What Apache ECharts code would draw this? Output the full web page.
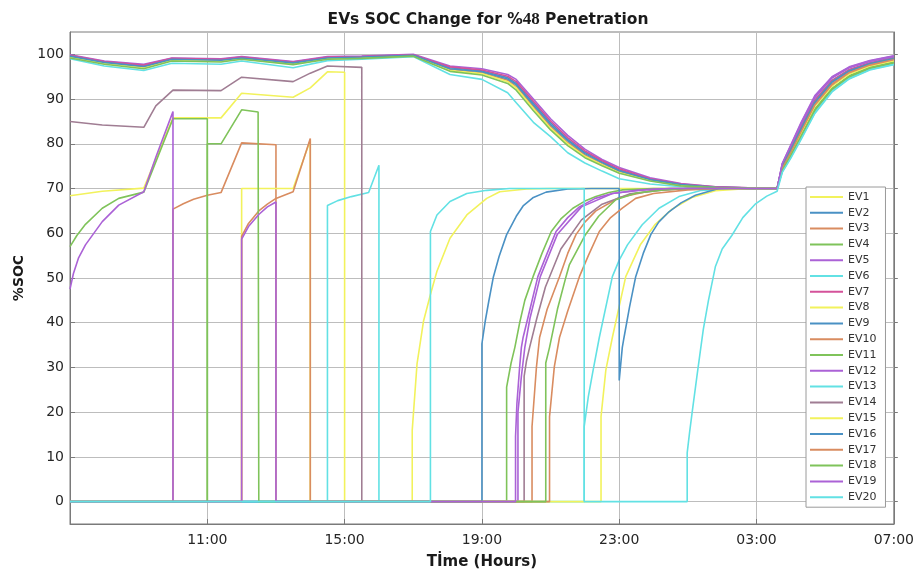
<!DOCTYPE html>
<html><head><meta charset="utf-8">
<script src="https://cdn.jsdelivr.net/npm/echarts@6/dist/echarts.min.js"></script>
<style>html,body{margin:0;padding:0;background:#fff}#c{width:917px;height:575px}</style>
</head><body><div id="c"></div>
<script>
// ---- DATA (time in hours from 07:00 = 7 to 07:00 next day = 31, SOC in %) ----
const evNames = ['EV1','EV2','EV3','EV4','EV5','EV6','EV7','EV8','EV9','EV10','EV11','EV12','EV13','EV14','EV15','EV16','EV17','EV18','EV19','EV20'];
const xTickLabels = ['07:00','11:00','15:00','19:00','23:00','03:00','07:00'];
const yTicks = [0,10,20,30,40,50,60,70,80,90,100];

const ev1 = [[7,68.4],[7.94,69.4],[9.15,70.1],[10.0,85.8],[11.4,85.8],[12.0,91.3],[13.5,90.4],[14.0,92.5],[14.5,96.1],[15.0,96.0],[15.0,0],[16.97,0],[16.97,16],[17.11,30.8],[17.3,40.4],[17.5,46.3],[17.69,51.5],[18.07,58.9],[18.56,64.1],[19.14,67.8],[19.52,69.3],[20.3,69.9],[21.0,70],[27.6,70],[27.75,74.5],[28.0,78.0],[28.3,82.5],[28.7,88.5],[29.2,93.0],[29.7,95.7],[30.3,97.4],[31,98.6]];
const ev2 = [[7,99.7],[8,98.3],[9.15,97.4],[9.97,99.0],[11.4,98.8],[12.0,99.3],[13.5,98.2],[14.5,99.3],[15.5,99.5],[17.0,99.9],[18.07,97.0],[19.0,96.3],[19.75,94.8],[20.0,93.5],[20.5,89.1],[21.0,84.7],[21.5,81.0],[22.0,78.1],[22.5,76.0],[23.0,74.2],[23.9,72.1],[24.8,70.9],[25.8,70.3],[27.0,70.1],[27.6,70],[27.75,75.0],[28.0,78.9],[28.3,83.6],[28.7,89.6],[29.2,94.1],[29.7,96.5],[30.3,98.0],[31,99.2]];
const ev3 = [[7,99.5],[8,98.1],[9.15,97.2],[9.97,98.8],[11.4,98.6],[12.0,99.1],[13.5,98.0],[14.5,99.1],[15.5,99.3],[17.0,99.8],[18.07,96.6],[19.0,95.9],[19.75,94.2],[20.0,92.8],[20.5,88.3],[21.0,83.9],[21.5,80.3],[22.0,77.5],[22.5,75.5],[23.0,73.8],[23.9,71.9],[24.8,70.8],[25.8,70.2],[27.0,70.1],[27.6,70],[27.75,74.6],[28.0,78.2],[28.3,82.8],[28.7,88.8],[29.2,93.3],[29.7,95.9],[30.3,97.6],[31,98.8]];
const ev4 = [[7,57],[7.2,59.5],[7.45,62],[7.94,65.6],[8.42,67.8],[9.15,69.2],[10.0,85.6],[11.0,85.6],[11.0,0],[19.72,0],[19.72,25.6],[19.85,31],[19.96,34.5],[20.1,40],[20.25,45],[20.49,50.3],[20.75,55.5],[21.02,60.4],[21.3,63.2],[21.65,65.6],[22.0,67.2],[22.32,68.2],[22.7,69.1],[23.1,69.7],[24.0,70],[27.6,70],[27.75,74.1],[28.0,77.5],[28.3,81.8],[28.7,87.6],[29.2,92.3],[29.7,95.1],[30.3,97.0],[31,98.2]];
const ev5 = [[7,99.9],[8,98.5],[9.15,97.8],[9.97,99.2],[11.4,99.0],[12.0,99.5],[13.5,98.4],[14.5,99.5],[15.5,99.6],[17.0,100.0],[18.07,97.4],[19.0,96.8],[19.75,95.5],[20.0,94.4],[20.5,90.0],[21.0,85.6],[21.5,81.9],[22.0,78.8],[22.5,76.5],[23.0,74.7],[23.9,72.4],[24.8,71.1],[25.8,70.4],[27.0,70.1],[27.6,70],[27.75,75.5],[28.0,79.6],[28.3,84.6],[28.7,90.6],[29.2,94.9],[29.7,97.1],[30.3,98.5],[31,99.6]];
const ev6 = [[7,99.0],[8,97.4],[9.15,96.4],[9.97,98.0],[11.4,97.8],[12.0,98.5],[13.5,97.0],[14.5,98.6],[15.5,98.9],[17.0,99.5],[18.07,95.5],[19.0,94.4],[19.75,91.4],[20.0,89.2],[20.5,84.8],[21.0,81.6],[21.5,78.0],[22.0,75.7],[22.5,73.9],[23.0,72.2],[23.9,71.0],[24.8,70.4],[25.8,70.1],[27.0,70.0],[27.6,70],[27.75,73.8],[28.0,77.0],[28.3,81.2],[28.7,87.0],[29.2,91.8],[29.7,94.6],[30.3,96.6],[31,97.8]];
const ev7 = [[7,99.8],[8,98.4],[9.15,97.6],[9.97,99.1],[11.4,98.9],[12.0,99.4],[13.5,98.3],[14.5,99.4],[15.5,99.5],[17.0,99.9],[18.07,97.2],[19.0,96.5],[19.75,95.1],[20.0,93.9],[20.5,89.5],[21.0,85.1],[21.5,81.4],[22.0,78.4],[22.5,76.2],[23.0,74.4],[23.9,72.2],[24.8,71.0],[25.8,70.4],[27.0,70.1],[27.6,70],[27.75,75.1],[28.0,79.0],[28.3,83.8],[28.7,89.8],[29.2,94.2],[29.7,96.6],[30.3,98.1],[31,99.3]];
const ev8 = [[7,99.4],[8,98.0],[9.15,97.0],[9.97,98.7],[11.4,98.5],[12.0,99.0],[13.5,97.9],[14.5,99.0],[15.5,99.2],[17.0,99.7],[18.07,96.4],[19.0,95.7],[19.75,93.9],[20.0,92.5],[20.5,87.9],[21.0,83.5],[21.5,80.0],[22.0,77.2],[22.5,75.3],[23.0,73.6],[23.9,71.8],[24.8,70.7],[25.8,70.2],[27.0,70.0],[27.6,70],[27.75,74.5],[28.0,78.1],[28.3,82.6],[28.7,88.6],[29.2,93.1],[29.7,95.8],[30.3,97.5],[31,98.7]];
const ev9 = [[7,99.6],[8,98.2],[9.15,97.3],[9.97,98.9],[11.4,98.7],[12.0,99.2],[13.5,98.1],[14.5,99.2],[15.5,99.4],[17.0,99.8],[18.07,96.8],[19.0,96.1],[19.75,94.5],[20.0,93.2],[20.5,88.7],[21.0,84.3],[21.5,80.7],[22.0,77.8],[22.5,75.8],[23.0,74.0],[23.9,72.0],[24.8,70.9],[25.8,70.3],[27.0,70.1],[27.6,70],[27.75,74.9],[28.0,78.7],[28.3,83.4],[28.7,89.3],[29.2,93.9],[29.7,96.3],[30.3,97.9],[31,99.1]];
const ev10 = [[7,0],[10.0,0],[10.0,65.4],[10.3,66.6],[10.6,67.6],[11.0,68.5],[11.4,69.1],[12.0,80.2],[13.0,79.8],[13.0,0],[20.46,0],[20.46,16.8],[20.59,30.2],[20.68,36.7],[20.9,43],[21.26,50.3],[21.5,55.5],[21.74,59.7],[22.0,62.5],[22.32,65],[23.0,68],[24.0,69.6],[25.0,70],[27.6,70],[27.75,74.6],[28.0,78.2],[28.3,82.9],[28.7,88.9],[29.2,93.4],[29.7,96.0],[30.3,97.7],[31,98.9]];
const ev11 = [[7,99.2],[8,97.8],[9.15,96.8],[9.97,98.5],[11.4,98.3],[12.0,98.9],[13.5,97.7],[14.5,98.9],[15.5,99.1],[17.0,99.6],[18.07,96.2],[19.0,95.4],[19.75,93.5],[20.0,92.0],[20.5,87.4],[21.0,83.1],[21.5,79.6],[22.0,76.9],[22.5,75.1],[23.0,73.4],[23.9,71.7],[24.8,70.6],[25.8,70.2],[27.0,70.0],[27.6,70],[27.75,74.2],[28.0,77.6],[28.3,82.0],[28.7,87.8],[29.2,92.4],[29.7,95.2],[30.3,97.1],[31,98.3]];
const ev12 = [[7,47.5],[7.1,51],[7.25,54.5],[7.45,57.4],[7.94,62.6],[8.42,66.3],[9.15,69.3],[9.5,77],[10.0,87.2],[10.0,0],[20.05,0],[20.05,20],[20.15,28],[20.25,34.5],[20.4,41],[20.7,50.3],[21.2,59.8],[21.9,65.9],[22.8,68.9],[23.8,69.8],[24.5,70],[27.6,70],[27.75,75.4],[28.0,79.4],[28.3,84.3],[28.7,90.3],[29.2,94.7],[29.7,97.0],[30.3,98.4],[31,99.5]];
const ev13 = [[7,0],[14.5,0],[14.5,66.2],[14.8,67.3],[15.2,68.2],[15.7,69.1],[16.0,75.2],[16.0,0],[21.98,0],[21.98,16.8],[22.1,23.5],[22.24,29.4],[22.42,36.7],[22.8,50.3],[23.0,54],[23.24,57.4],[23.67,61.9],[24.16,65.6],[24.74,68.2],[25.4,69.6],[26.5,70],[27.6,70],[27.75,73.9],[28.0,77.2],[28.3,81.4],[28.7,87.3],[29.2,92.0],[29.7,94.8],[30.3,96.8],[31,98.0]];
const ev14 = [[7,85.0],[7.94,84.2],[9.15,83.7],[9.5,88.5],[10.0,92.0],[11.4,91.9],[12.0,94.9],[13.5,93.9],[14.0,95.8],[14.5,97.4],[15.5,97.1],[15.5,0],[20.23,0],[20.23,28],[20.3,31.5],[20.39,34.5],[20.6,41],[20.85,48],[21.3,56.5],[21.9,63],[22.5,66.5],[23.3,68.8],[24.3,69.7],[25.0,70],[27.6,70],[27.75,75.0],[28.0,78.8],[28.3,83.5],[28.7,89.5],[29.2,94.0],[29.7,96.4],[30.3,97.9],[31,99.1]];
const ev15 = [[7,0],[12.0,0],[12.0,70],[13.5,70],[14.0,80.8],[14.0,0],[22.47,0],[22.47,19],[22.61,29.4],[22.8,36.7],[23.19,50.3],[23.5,55.5],[23.62,57.5],[24.05,62],[24.54,65.4],[25.12,68],[25.8,69.5],[26.8,70],[27.6,70],[27.75,74.4],[28.0,77.9],[28.3,82.4],[28.7,88.4],[29.2,92.9],[29.7,95.6],[30.3,97.4],[31,98.6]];
const ev16 = [[7,0],[19.0,0],[19.0,35.3],[19.1,40.5],[19.2,44.8],[19.33,50.1],[19.5,54.8],[19.72,59.7],[20.0,63.8],[20.2,66.1],[20.5,68],[20.87,69.2],[21.5,69.9],[22.2,70],[23.0,70],[23.0,27.1],[23.09,34.5],[23.14,36.7],[23.3,43.5],[23.48,50.3],[23.7,55.5],[23.92,59.7],[24.15,62.5],[24.45,64.8],[24.8,66.8],[25.22,68.5],[25.9,70],[27.6,70],[27.75,74.8],[28.0,78.6],[28.3,83.3],[28.7,89.2],[29.2,93.8],[29.7,96.3],[30.3,97.9],[31,99.0]];
const ev17 = [[7,0],[12.0,0],[12.0,59.3],[12.2,62.2],[12.5,65],[12.75,66.5],[13.0,67.8],[13.5,69.3],[14.0,81.2],[14.0,0],[20.97,0],[20.97,19],[21.11,30.2],[21.26,36.7],[21.5,42.6],[21.84,50.3],[22.1,55],[22.42,60.4],[22.75,63.5],[23.09,65.6],[23.48,67.8],[24.0,68.9],[25.0,69.7],[26.0,70],[27.6,70],[27.75,74.5],[28.0,78.1],[28.3,82.7],[28.7,88.7],[29.2,93.2],[29.7,95.9],[30.3,97.6],[31,98.8]];
const ev18 = [[7,0],[11.0,0],[11.0,80],[11.4,80],[12.0,87.6],[12.48,87.1],[12.5,0],[20.86,0],[20.86,31],[20.97,34.5],[21.2,43],[21.45,50.3],[21.55,53],[22.0,59.5],[22.4,63.8],[22.9,67.5],[23.5,69],[24.3,69.7],[25.0,70],[27.6,70],[27.75,74.0],[28.0,77.4],[28.3,81.7],[28.7,87.5],[29.2,92.2],[29.7,95.0],[30.3,96.9],[31,98.1]];
const ev19 = [[7,0],[12.0,0],[12.0,58.7],[12.2,61.5],[12.5,64.2],[12.75,65.9],[13.0,67],[13.0,0],[19.98,0],[19.98,14.6],[20.02,22],[20.1,30.2],[20.15,34.5],[20.2,36.7],[20.4,43],[20.63,50.3],[20.9,55.5],[21.16,60.4],[21.5,63.5],[21.84,65.9],[22.3,67.8],[22.8,68.9],[23.5,69.6],[24.5,70],[27.6,70],[27.75,75.6],[28.0,79.8],[28.3,84.8],[28.7,90.8],[29.2,95.0],[29.7,97.2],[30.3,98.6],[31,99.7]];
const ev20 = [[7,0],[17.5,0],[17.5,60.4],[17.69,64.1],[18.07,67.1],[18.56,68.9],[19.14,69.6],[19.8,70],[21.98,70],[21.98,0],[24.98,0],[24.98,10.9],[25.05,15.5],[25.12,19.7],[25.27,28.4],[25.36,33.5],[25.45,38.5],[25.6,45],[25.8,52.5],[26.0,56.5],[26.28,59.5],[26.6,63.5],[26.96,66.5],[27.3,68.3],[27.6,69.4],[27.75,73.6],[28.0,76.8],[28.3,81.0],[28.7,86.8],[29.2,91.6],[29.7,94.5],[30.3,96.5],[31,97.7]];

const evSeries = [ev1,ev2,ev3,ev4,ev5,ev6,ev7,ev8,ev9,ev10,ev11,ev12,ev13,ev14,ev15,ev16,ev17,ev18,ev19,ev20];

// ---- STYLE ----
const palette = ['#f2f25c','#4a91c4','#d98c60','#7fc35a','#ab62d6','#62e1e4','#d4529a',
                 '#f2f25c','#4a91c4','#d98c60','#7fc35a','#ab62d6','#62e1e4','#a07d93',
                 '#f2f25c','#4a91c4','#d98c60','#7fc35a','#ab62d6','#62e1e4'];
const FONT = 'DejaVu Sans';

const chart = echarts.init(document.getElementById('c'), null, {renderer:'canvas'});
const series = evSeries.map((d,i)=>({
  name: evNames[i], type:'line', data:d, showSymbol:false, symbol:'none',
  lineStyle:{width:1.6, color:palette[i]}, itemStyle:{color:palette[i]},
  emphasis:{disabled:true}, animation:false, z: 2
}));

chart.setOption({
  animation:false,
  backgroundColor:'#fff',
  title:{
    text:'{a|EVs SOC Change for %}{b|48}{a| Penetration}',
    left: 483, top: 6, textAlign:'center',
    textStyle:{ rich:{
      a:{fontFamily:FONT, fontWeight:'bold', fontSize:15.5, color:'#1a1a1a'},
      b:{fontFamily:'Liberation Serif', fontWeight:'bold', fontSize:17, color:'#1a1a1a'}
    }}
  },
  grid:{left:70, right:21, top:32, bottom:48, show:true, borderColor:'#7a7a7a', borderWidth:1},
  legend:{
    data: evNames, orient:'vertical', left:806, top:187,
    padding:[3,9,3,4], itemWidth:33, itemHeight:2, itemGap:1.8, icon:'rect',
    backgroundColor:'#fff', borderColor:'#9a9a9a', borderWidth:1,
    textStyle:{fontFamily:FONT, fontSize:11, lineHeight:14, color:'#333'},
    selectedMode:false, z:10
  },
  xAxis:{
    type:'value', min:7, max:31, interval:4,
    name:'Tİme (Hours)', nameLocation:'middle', nameGap:31,
    nameTextStyle:{fontFamily:FONT, fontWeight:'bold', fontSize:15, color:'#1a1a1a'},
    axisLine:{show:true, onZero:false, lineStyle:{color:'#7a7a7a'}},
    axisTick:{show:true, inside:true, length:5, lineStyle:{color:'#7a7a7a'}},
    axisLabel:{fontFamily:FONT, fontSize:14, color:'#262626', margin:9, showMinLabel:false,
      formatter:(v)=>xTickLabels[Math.round((v-7)/4)]},
    splitLine:{show:true, lineStyle:{color:'#bdbdbd', width:1}}
  },
  yAxis:[{
    type:'value', min:-5, max:105,
    name:'%SOC', nameLocation:'middle', nameGap:44, nameRotate:90,
    nameTextStyle:{fontFamily:FONT, fontWeight:'bold', fontSize:14, color:'#1a1a1a'},
    axisLine:{show:true, lineStyle:{color:'#7a7a7a'}},
    axisTick:{show:true, inside:true, length:5, customValues:yTicks, lineStyle:{color:'#7a7a7a'}},
    axisLabel:{fontFamily:FONT, fontSize:14, color:'#262626', margin:6, customValues:yTicks},
    splitLine:{show:true, lineStyle:{color:'#bdbdbd', width:1}}
  },{
    type:'value', min:-5, max:105, position:'right',
    axisLine:{show:true, lineStyle:{color:'#7a7a7a'}},
    axisTick:{show:true, inside:false, length:4, customValues:yTicks, lineStyle:{color:'#7a7a7a'}},
    axisLabel:{show:false, customValues:yTicks},
    splitLine:{show:false}
  }],
  series: series
});
</script></body></html>
